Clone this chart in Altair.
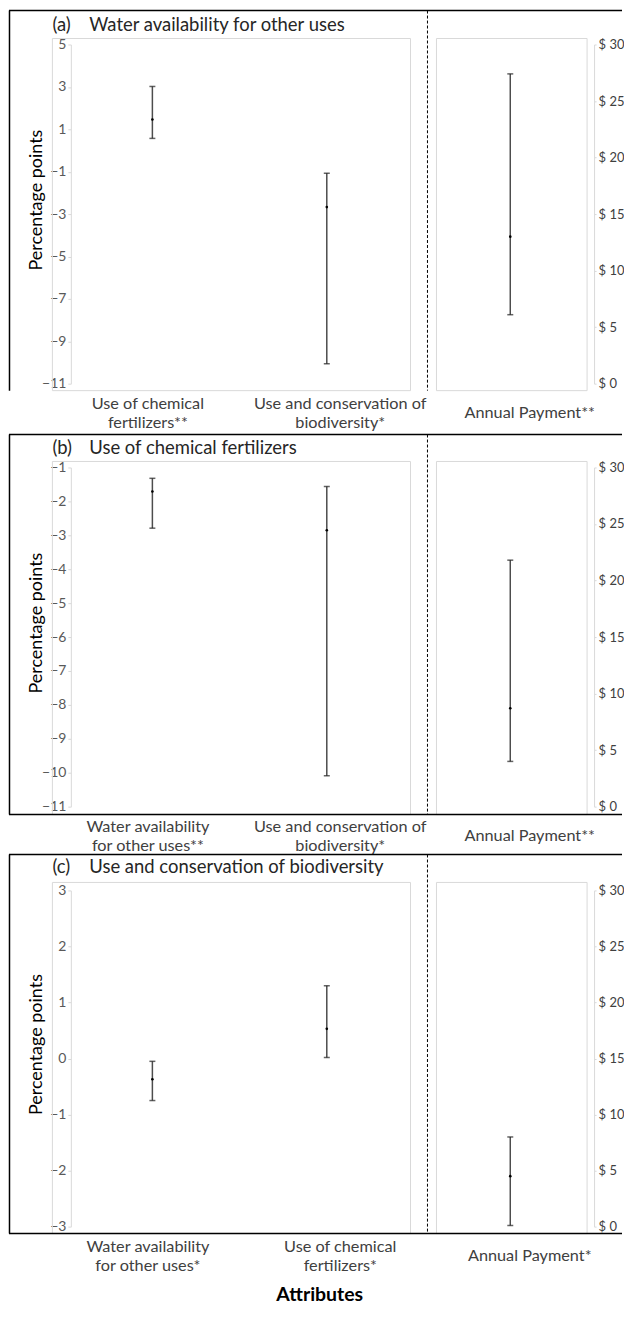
import altair as alt
import pandas as pd

FONT = "Lato"
BAR = "#4d4d4d"
CAP = "#222222"
GRAY = "#d9d9d9"

# ---------------- data ----------------
a_cats = ["Use of chemical\nfertilizers**", "Use and conservation of\nbiodiversity*"]
a_mean = [1.46, -2.67]
a_lo = [0.57, -10.06]
a_hi = [3.02, -1.07]
a_pay_cat = ["Annual Payment**"]
a_pay_mean = [13.0]
a_pay_lo = [6.1]
a_pay_hi = [27.4]

b_cats = ["Water availability\nfor other uses**", "Use and conservation of\nbiodiversity*"]
b_mean = [-1.71, -2.85]
b_lo = [-2.79, -10.09]
b_hi = [-1.32, -1.56]
b_pay_cat = ["Annual Payment**"]
b_pay_mean = [8.7]
b_pay_lo = [4.0]
b_pay_hi = [21.8]

c_cats = ["Water availability\nfor other uses*", "Use of chemical\nfertilizers*"]
c_mean = [-0.37, 0.53]
c_lo = [-0.75, 0.02]
c_hi = [-0.05, 1.30]
c_pay_cat = ["Annual Payment*"]
c_pay_mean = [4.5]
c_pay_lo = [0.1]
c_pay_hi = [8.0]

panel_letters = ["(a)", "(b)", "(c)"]
panel_titles = ["Water availability for other uses",
                "Use of chemical fertilizers",
                "Use and conservation of biodiversity"]
a_ticks = [5, 3, 1, -1, -3, -5, -7, -9, -11]
b_ticks = [-1, -2, -3, -4, -5, -6, -7, -8, -9, -10, -11]
c_ticks = [3, 2, 1, 0, -1, -2, -3]
pay_ticks = [0, 5, 10, 15, 20, 25, 30]
y_title = "Percentage points"
x_title = "Attributes"

# ---------------- layout (page pixels) ----------------
AX = 70.5            # left edge of the plot (left axis)
RX = 595             # right axis
W = RX - AX
BAR1, BAR2, BAR3 = 155, 318, 511
STEP = BAR2 - BAR1
PAD_L = (W / STEP - 1) / 2
ALIGN_L = (BAR1 - AX) / (W - STEP)
ALIGN_R = (BAR3 - AX) / W
RIGHT_END = 623

rows = [
    dict(T=43, H=340, ftop=9, fbot=390, btop=37, ty=23, bottom=False),
    dict(T=467, H=340, ftop=434, fbot=815, btop=461, ty=448, bottom=True),
    dict(T=891, H=337, ftop=855, fbot=1235, btop=883, ty=868, bottom=True),
]

one = pd.DataFrame({"k": [0]})


def panel(i, cats, mean, lo, hi, pcats, pmean, plo, phi, yticks):
    r = rows[i]
    T, H = r["T"], r["H"]
    df = pd.DataFrame({"cat": cats, "mean": mean, "lo": lo, "hi": hi})
    dfp = pd.DataFrame({"cat": pcats, "mean": pmean, "lo": plo, "hi": phi})

    xaxis = alt.Axis(title=None, orient="bottom", domain=False, ticks=False, labelAngle=0,
                     labelExpr="split(datum.label, '\\n')", labelFont=FONT,
                     labelFontSize=16.3, labelColor="#404040", labelLineHeight=18.5,
                     labelBaseline="middle", labelPadding=20,
                     labelOffset={"condition": {"test": "datum.index < 0.5", "value": -5},
                                  "value": 13})
    xs = alt.X("cat:N", sort=cats,
               scale=alt.Scale(type="point", padding=PAD_L, align=ALIGN_L), axis=xaxis)
    yaxis = alt.Axis(title=None, orient="left", values=yticks, grid=False, domainColor=GRAY,
                     tickColor=GRAY, tickSize=3, labelFont=FONT, labelFontSize=14,
                     labelColor="#595959", labelPadding=2)
    ys = alt.Scale(domain=[min(yticks), max(yticks)], nice=False, zero=False)

    base = alt.Chart(df)
    rule = base.mark_rule(color=BAR, strokeWidth=1.5).encode(
        x=xs, y=alt.Y("lo:Q", scale=ys, axis=yaxis), y2="hi:Q")
    cap1 = base.mark_tick(color=CAP, size=6, thickness=1.5).encode(
        x=xs, y=alt.Y("lo:Q", scale=ys, axis=yaxis))
    cap2 = base.mark_tick(color=CAP, size=6, thickness=1.5).encode(
        x=xs, y=alt.Y("hi:Q", scale=ys, axis=yaxis))
    dot = base.mark_point(filled=True, size=7, color="black", opacity=1).encode(
        x=xs, y=alt.Y("mean:Q", scale=ys, axis=yaxis))
    left = alt.layer(rule, cap1, cap2, dot)

    # right (annual payment) part
    xaxis_r = alt.Axis(title=None, orient="bottom", domain=False, ticks=False, labelAngle=0,
                       labelFont=FONT, labelFontSize=16.3, labelColor="#404040",
                       labelBaseline="middle", labelPadding=29, labelOffset=19)
    xr = alt.X("cat:N", scale=alt.Scale(type="point", padding=0.5, align=ALIGN_R), axis=xaxis_r)
    yaxis_r = alt.Axis(title=None, orient="right", values=pay_ticks, grid=False,
                       labelExpr="'$ ' + datum.value", domainColor=GRAY, tickColor=GRAY,
                       tickSize=2, labelFont=FONT, labelFontSize=13, labelColor="#404040",
                       labelPadding=2)
    ysr = alt.Scale(domain=[0, 30], nice=False, zero=False)
    bp = alt.Chart(dfp)
    r_rule = bp.mark_rule(color=BAR, strokeWidth=1.5).encode(
        x=xr, y=alt.Y("lo:Q", scale=ysr, axis=yaxis_r), y2="hi:Q")
    r_cap1 = bp.mark_tick(color=CAP, size=6, thickness=1.5).encode(
        x=xr, y=alt.Y("lo:Q", scale=ysr, axis=yaxis_r))
    r_cap2 = bp.mark_tick(color=CAP, size=6, thickness=1.5).encode(
        x=xr, y=alt.Y("hi:Q", scale=ysr, axis=yaxis_r))
    r_dot = bp.mark_point(filled=True, size=7, color="black", opacity=1).encode(
        x=xr, y=alt.Y("mean:Q", scale=ysr, axis=yaxis_r))
    right = alt.layer(r_rule, r_cap1, r_cap2, r_dot)

    # decorations (frames, titles)
    dec = alt.Chart(one)
    X = lambda px: alt.value(px - AX)
    Y = lambda py: alt.value(py - T)
    layers = []
    layers.append(dec.mark_rect(filled=False, color=GRAY, strokeWidth=1).encode(
        x=X(52), x2=X(411), y=Y(r["btop"]), y2=Y(r["fbot"])))
    layers.append(dec.mark_rect(filled=False, color=GRAY, strokeWidth=1).encode(
        x=X(437), x2=X(588), y=Y(r["btop"]), y2=Y(r["fbot"])))
    layers.append(dec.mark_rule(color="black", strokeWidth=1.5).encode(
        x=X(8.5), x2=X(RIGHT_END), y=Y(r["ftop"])))
    layers.append(dec.mark_rule(color="black", strokeWidth=1.5).encode(
        x=X(9), y=Y(r["ftop"]), y2=Y(r["fbot"])))
    if r["bottom"]:
        layers.append(dec.mark_rule(color="black", strokeWidth=1.5).encode(
            x=X(8.5), x2=X(RIGHT_END), y=Y(r["fbot"])))
    layers.append(dec.mark_rule(color="black", strokeWidth=1, strokeDash=[3, 2]).encode(
        x=X(428), y=Y(r["ftop"]), y2=Y(r["fbot"])))
    layers.append(dec.mark_text(text=panel_letters[i], font=FONT, fontSize=18.5,
                                align="left", baseline="middle", color="#262626").encode(
        x=X(52), y=Y(r["ty"])))
    layers.append(dec.mark_text(text=panel_titles[i], font=FONT, fontSize=18.5,
                                align="left", baseline="middle", color="#262626").encode(
        x=X(89), y=Y(r["ty"])))
    layers.append(dec.mark_text(text=y_title, font=FONT, fontSize=18, angle=270,
                                align="center", baseline="middle", color="black").encode(
        x=X(37), y=alt.value(H / 2 - 14)))
    if i == 2:
        layers.append(dec.mark_text(text=x_title, font=FONT, fontSize=19.5, fontWeight="bold",
                                    align="center", baseline="middle", color="black").encode(
            x=X(320), y=Y(1296.5)))

    return alt.layer(*layers, left, right).resolve_scale(
        x="independent", y="independent").properties(width=W, height=H)


rowA = panel(0, a_cats, a_mean, a_lo, a_hi, a_pay_cat, a_pay_mean, a_pay_lo, a_pay_hi, a_ticks)
rowB = panel(1, b_cats, b_mean, b_lo, b_hi, b_pay_cat, b_pay_mean, b_pay_lo, b_pay_hi, b_ticks)
rowC = panel(2, c_cats, c_mean, c_lo, c_hi, c_pay_cat, c_pay_mean, c_pay_lo, c_pay_hi, c_ticks)

chart = alt.vconcat(rowA, rowB, rowC, spacing=84, bounds="flush").properties(
    padding=0, background="white"
).configure_view(strokeWidth=0)

chart.save("out.html", embed_options={"renderer": "svg", "actions": False})
